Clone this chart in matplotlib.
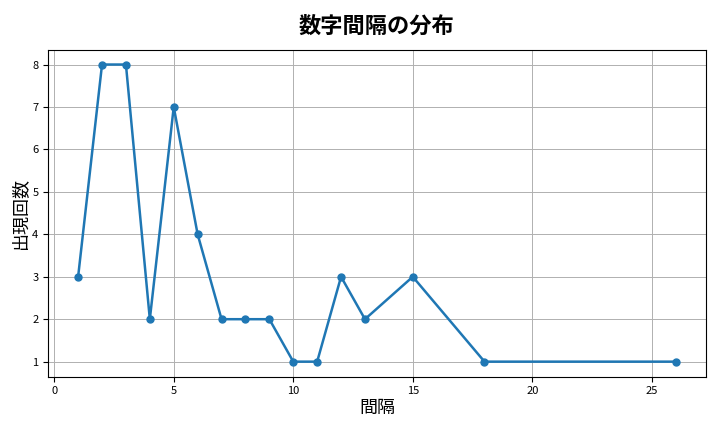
import matplotlib
matplotlib.use("Agg")
import matplotlib.pyplot as plt

plt.rcParams['font.family'] = ['Noto Sans CJK JP', 'DejaVu Sans']

gaps = [1, 2, 3, 4, 5, 6, 7, 8, 9, 10, 11, 12, 13, 15, 18, 26]
counts = [3, 8, 8, 2, 7, 4, 2, 2, 2, 1, 1, 3, 2, 3, 1, 1]

fig, ax = plt.subplots(figsize=(7.2, 4.32), dpi=100)
ax.plot(gaps, counts, marker='o', markersize=5, linewidth=1.8, color='#1f77b4')
ax.set_title("数字間隔の分布", fontsize=16, fontweight='bold', pad=12)
ax.set_xlabel("間隔", fontsize=13, labelpad=2)
ax.set_ylabel("出現回数", fontsize=13, labelpad=2)
ax.tick_params(labelsize=8)
ax.grid(True, color='#b0b0b0', linewidth=0.7)
fig.tight_layout()
fig.subplots_adjust(left=0.067, right=0.98)
fig.savefig("out.png", dpi=100)
